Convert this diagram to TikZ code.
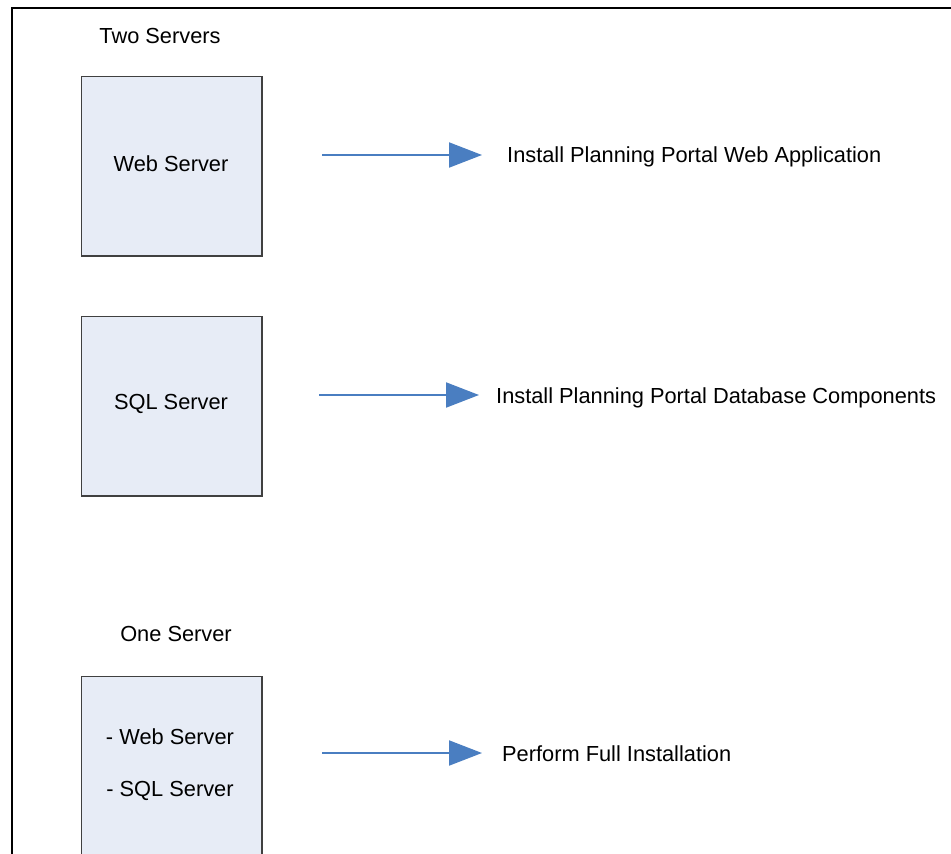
\documentclass[tikz,border=0pt]{standalone}
\usepackage{fontspec}
\setmainfont{Liberation Sans}
\usetikzlibrary{arrows.meta}
\definecolor{boxfill}{RGB}{231,236,246}
\definecolor{arrowblue}{RGB}{74,126,193}
\begin{document}
\begin{tikzpicture}[x=1pt,y=-1pt,
  server/.style={draw=black!75,line width=1.2pt,fill=boxfill},
  lbl/.style={font=\fontsize{21.8}{24}\selectfont,inner sep=0pt,text=black},
  flow/.style={draw=arrowblue,line width=2pt,-{Triangle[length=33pt,width=25pt]}}]
\useasboundingbox (0,0) rectangle (951,854);
\fill[white] (0,0) rectangle (951,854);
\draw[line width=2pt] (12,870) -- (12,8) -- (960,8);
% boxes
\draw[server] (81.5,76.5) rectangle (262,256);
\draw[server] (81.5,316.5) rectangle (262,496);
\draw[server] (81.5,676.5) rectangle (262,870);
\node[lbl] (two) at (160,35.5) {Two Servers};
\node[lbl] (web) at (171,163.5) {Web Server};
\node[lbl] (sql) at (171,403.5) {SQL Server};
\node[lbl] (one) at (176,633.5) {One Server};
\node[lbl] (w2) at (170,736.5) {- Web Server};
\node[lbl] (s2) at (170,790.5) {- SQL Server};
% targets
\node[lbl,anchor=west] (t1) at (507,156.5) {Install Planning Portal Web Application};
\node[lbl,anchor=west] (t2) at (496,397.5) {Install Planning Portal Database Components};
\node[lbl,anchor=west] (t3) at (502,753.5) {Perform Full Installation};
\coordinate (a1) at (322,155);
\coordinate (b1) at (482,155);
\coordinate (a2) at (319,395);
\coordinate (b2) at (479,395);
\coordinate (a3) at (322,753);
\coordinate (b3) at (482,753);
\draw[flow] (a1) -- (b1);
\draw[flow] (a2) -- (b2);
\draw[flow] (a3) -- (b3);
\end{tikzpicture}
\end{document}
